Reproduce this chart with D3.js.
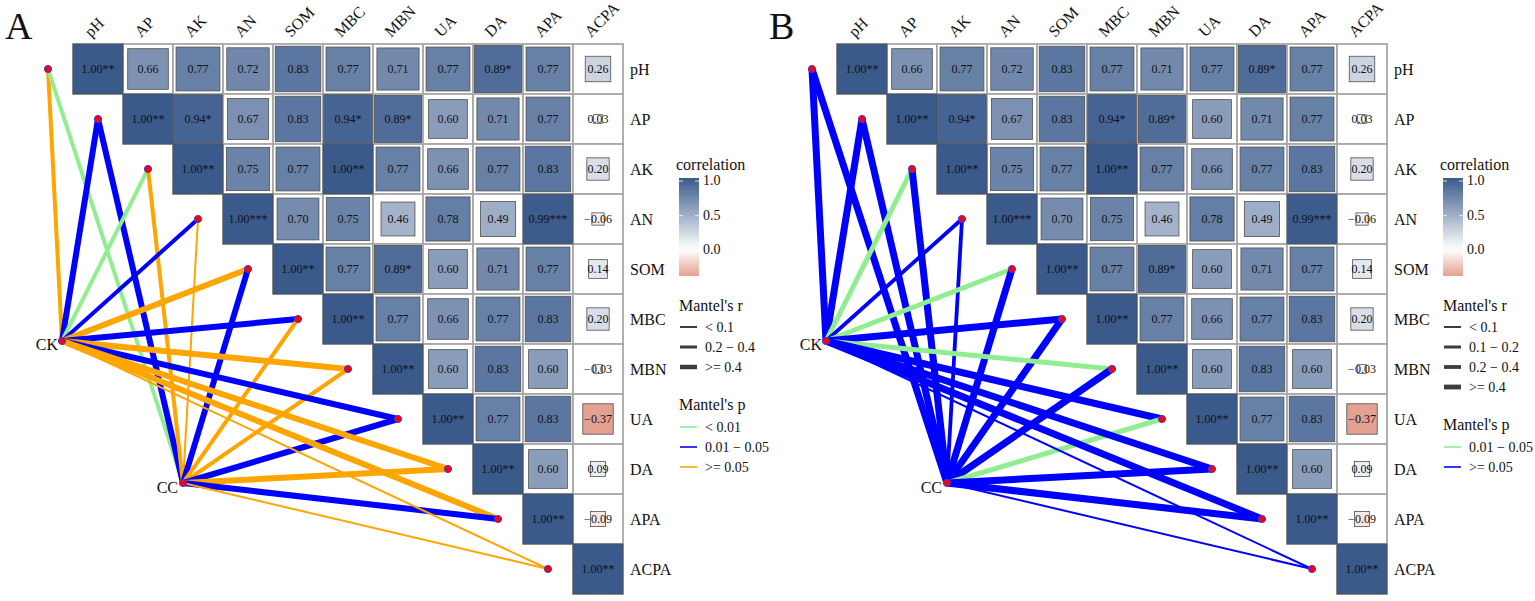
<!DOCTYPE html>
<html><head><meta charset="utf-8">
<script src="https://cdn.jsdelivr.net/npm/d3@7"></script>
<style>body{margin:0;background:#fff} svg{display:block} text{fill:#111}</style>
</head><body><svg id="c" width="1535" height="601" font-family="Liberation Serif, Times New Roman, serif"></svg>
<script>
// ---------- data ----------
const variables = ["pH","AP","AK","AN","SOM","MBC","MBN","UA","DA","APA","ACPA"];
// upper triangle rows (row i starts at column i)
const corRows = [
  [1.00,0.66,0.77,0.72,0.83,0.77,0.71,0.77,0.89,0.77,0.26],
  [1.00,0.94,0.67,0.83,0.94,0.89,0.60,0.71,0.77,0.03],
  [1.00,0.75,0.77,1.00,0.77,0.66,0.77,0.83,0.20],
  [1.00,0.70,0.75,0.46,0.78,0.49,0.99,-0.06],
  [1.00,0.77,0.89,0.60,0.71,0.77,0.14],
  [1.00,0.77,0.66,0.77,0.83,0.20],
  [1.00,0.60,0.83,0.60,-0.03],
  [1.00,0.77,0.83,-0.37],
  [1.00,0.60,0.09],
  [1.00,-0.09],
  [1.00]
];
const sigRows = [
  ["**","","","","","","","","*","",""],
  ["**","*","","","*","*","","","",""],
  ["**","","","**","","","","",""],
  ["***","","","","","","***",""],
  ["**","","*","","","",""],
  ["**","","","","",""],
  ["**","","","",""],
  ["**","","",""],
  ["**","",""],
  ["**",""],
  ["**"]
];
const envs = ["CK","CC"];
const colorTicks = [0.0, 0.5, 1.0];

// Panel A: Mantel's r / p per variable (estimated from line width / colour)
const mantelR_A_CK = [0.30,0.50,0.30,0.30,0.50,0.50,0.50,0.50,0.50,0.50,0.05];
const mantelP_A_CK = [0.20,0.03,0.005,0.03,0.20,0.03,0.20,0.03,0.20,0.20,0.20];
const mantelR_A_CC = [0.30,0.50,0.30,0.05,0.50,0.30,0.30,0.50,0.50,0.50,0.05];
const mantelP_A_CC = [0.005,0.03,0.20,0.20,0.03,0.20,0.20,0.03,0.20,0.03,0.20];
const rLabels_A = ["< 0.1","0.2 \u2212 0.4",">= 0.4"];
const pLabels_A = ["< 0.01","0.01 \u2212 0.05",">= 0.05"];

// Panel B
const mantelR_B_CK = [0.50,0.50,0.30,0.15,0.30,0.50,0.30,0.50,0.50,0.50,0.05];
const mantelP_B_CK = [0.20,0.20,0.03,0.20,0.03,0.20,0.03,0.20,0.20,0.20,0.20];
const mantelR_B_CC = [0.50,0.50,0.50,0.15,0.50,0.50,0.50,0.30,0.50,0.50,0.05];
const mantelP_B_CC = [0.20,0.20,0.20,0.20,0.20,0.20,0.20,0.03,0.20,0.20,0.20];
const rLabels_B = ["< 0.1","0.1 \u2212 0.2","0.2 \u2212 0.4",">= 0.4"];
const pLabels_B = ["0.01 \u2212 0.05",">= 0.05"];

// ---------- drawing ----------
const svg = d3.select("#c");
const color = d3.scaleLinear().domain([-0.37,0,1]).range(["#E4A090","#FFFFFF","#3A5A8C"]).clamp(true);
const fmt = v => (v < 0 ? "\u2212" : "") + Math.abs(v).toFixed(2);

const panels = [
  {letter:"A", x0:73, rCK:mantelR_A_CK, pCK:mantelP_A_CK, rCC:mantelR_A_CC, pCC:mantelP_A_CC,
   rThr:[0.1,0.2,0.4], rW:[2,3,4,6], rKeyW:[2,3,4.5], rLabels:rLabels_A,
   pThr:[0.01,0.05], pCol:["#90EE90","#0000FF","#FFA500"], pKeyVals:[0.005,0.03,0.2], pLabels:pLabels_A},
  {letter:"B", x0:837, rCK:mantelR_B_CK, pCK:mantelP_B_CK, rCC:mantelR_B_CC, pCC:mantelP_B_CC,
   rThr:[0.1,0.2,0.4], rW:[2,3.8,5,7], rKeyW:[2,3,3.8,4.8], rLabels:rLabels_B,
   pThr:[0.05], pCol:["#90EE90","#0000FF"], pKeyVals:[0.03,0.2], pLabels:pLabels_B}
];

const y0 = 44, cell = 50;

// gradient
const defs = svg.append("defs");
const grad = defs.append("linearGradient").attr("id","cg").attr("x1",0).attr("x2",0).attr("y1",1).attr("y2",0);
d3.range(0,1.0001,0.05).forEach(t=>{
  const v = -0.37 + t*1.37;
  grad.append("stop").attr("offset",t).attr("stop-color",color(v));
});

panels.forEach(P=>{
  const g = svg.append("g");
  const xs = d3.scaleBand().domain(variables).range([P.x0, P.x0 + cell*variables.length]);
  const ys = d3.scaleBand().domain(variables).range([y0, y0 + cell*variables.length]);
  const bw = xs.bandwidth();

  g.append("text").attr("x",P.x0-68).attr("y",39).attr("font-size",38).text(P.letter);

  const envPos = {CK:[P.x0-11, y0+297], CC:[P.x0+110, y0+439]};
  const wScale = d3.scaleThreshold().domain(P.rThr).range(P.rW);
  const cScale = d3.scaleThreshold().domain(P.pThr).range(P.pCol);

  const links = [];
  variables.forEach((v,i)=>{
    links.push({env:"CK", v, r:P.rCK[i], p:P.pCK[i]});
    links.push({env:"CC", v, r:P.rCC[i], p:P.pCC[i]});
  });
  const endPt = v => [xs(v) - bw/2, ys(v) + bw/2];

  g.append("g").selectAll("line").data(links).join("line")
    .attr("x1",d=>envPos[d.env][0]).attr("y1",d=>envPos[d.env][1])
    .attr("x2",d=>endPt(d.v)[0]).attr("y2",d=>endPt(d.v)[1])
    .attr("stroke",d=>cScale(d.p)).attr("stroke-width",d=>wScale(d.r))
    .attr("stroke-linecap","butt");

  const cells = [];
  corRows.forEach((row,i)=>row.forEach((r,k)=>{
    cells.push({row:variables[i], col:variables[i+k], r, sig:sigRows[i][k]});
  }));
  const cg = g.append("g");
  cg.selectAll("rect.bg").data(cells).join("rect").attr("class","bg")
    .attr("x",d=>xs(d.col)).attr("y",d=>ys(d.row)).attr("width",bw).attr("height",bw)
    .attr("fill","#fff").attr("stroke","#A8A8A8").attr("stroke-width",1.8);
  const side = d => bw*Math.sqrt(Math.abs(d.r));
  cg.selectAll("rect.sq").data(cells).join("rect").attr("class","sq")
    .attr("x",d=>xs(d.col)+(bw-side(d))/2).attr("y",d=>ys(d.row)+(bw-side(d))/2)
    .attr("width",side).attr("height",side)
    .attr("fill",d=>color(d.r)).attr("stroke","#505050").attr("stroke-width",0.8);
  cg.selectAll("text").data(cells).join("text")
    .attr("x",d=>xs(d.col)+bw/2).attr("y",d=>ys(d.row)+bw/2+4)
    .attr("text-anchor","middle").attr("font-size",12).attr("fill","#1a1a1a")
    .text(d=>fmt(d.r)+d.sig);

  g.append("g").selectAll("text").data(variables).join("text")
    .attr("transform",v=>`translate(${xs(v)+bw/2-7},38) rotate(-45)`)
    .attr("font-size",16).text(v=>v);
  g.append("g").selectAll("text").data(variables).join("text")
    .attr("x",P.x0+cell*variables.length+7).attr("y",v=>ys(v)+bw/2+6)
    .attr("font-size",16).text(v=>v);

  const nodes = variables.map(v=>endPt(v)).concat(envs.map(e=>envPos[e]));
  g.append("g").selectAll("circle").data(nodes).join("circle")
    .attr("cx",d=>d[0]).attr("cy",d=>d[1]).attr("r",3.6)
    .attr("fill","#FF0000").attr("stroke","#3A3AE8").attr("stroke-width",1);
  g.append("text").attr("x",envPos.CK[0]-4).attr("y",envPos.CK[1]+9).attr("text-anchor","end").attr("font-size",16).text("CK");
  g.append("text").attr("x",envPos.CC[0]-5).attr("y",envPos.CC[1]+10).attr("text-anchor","end").attr("font-size",16).text("CC");

  const lx = P.x0 + 606;
  const lg = g.append("g");
  lg.append("text").attr("x",lx-3).attr("y",170).attr("font-size",16).text("correlation");
  const by = d3.scaleLinear().domain([-0.37,1.0]).range([276,181]);
  lg.append("rect").attr("x",lx).attr("y",178).attr("width",20).attr("height",276-178).attr("fill","url(#cg)");
  colorTicks.forEach(t=>{
    lg.append("line").attr("x1",lx).attr("x2",lx+4).attr("y1",by(t)).attr("y2",by(t)).attr("stroke","#fff").attr("stroke-width",0.8);
    lg.append("line").attr("x1",lx+16).attr("x2",lx+20).attr("y1",by(t)).attr("y2",by(t)).attr("stroke","#fff").attr("stroke-width",0.8);
    lg.append("text").attr("x",lx+24).attr("y",by(t)+4).attr("font-size",14).text(t.toFixed(1));
  });

  lg.append("text").attr("x",lx).attr("y",311).attr("font-size",16).text("Mantel's r");
  P.rLabels.forEach((lab,i)=>{
    const yy = 327 + i*20;
    lg.append("line").attr("x1",lx+1).attr("x2",lx+18).attr("y1",yy).attr("y2",yy)
      .attr("stroke","#3d3d3d").attr("stroke-width",P.rKeyW[i]);
    lg.append("text").attr("x",lx+26).attr("y",yy+5).attr("font-size",14).text(lab);
  });
  const pTop = 327 + P.rLabels.length*20 + 23;
  lg.append("text").attr("x",lx).attr("y",pTop).attr("font-size",16).text("Mantel's p");
  P.pLabels.forEach((lab,i)=>{
    const yy = pTop + 17 + i*20;
    lg.append("line").attr("x1",lx+1).attr("x2",lx+18).attr("y1",yy).attr("y2",yy)
      .attr("stroke",cScale(P.pKeyVals[i])).attr("stroke-width",1.6);
    lg.append("text").attr("x",lx+26).attr("y",yy+5).attr("font-size",14).text(lab);
  });
});
</script></body></html>
